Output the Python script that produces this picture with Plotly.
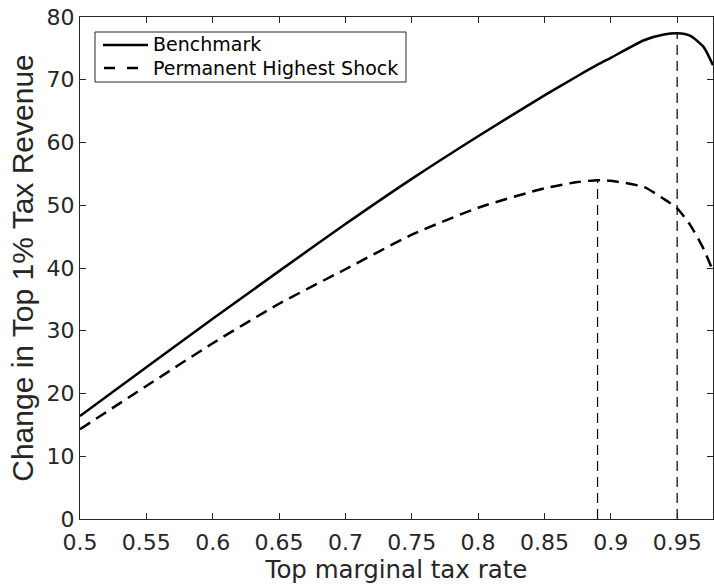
import plotly.graph_objects as go
import numpy as np

tax_rate = [0.50, 0.55, 0.60, 0.65, 0.70, 0.75, 0.80, 0.85, 0.875, 0.89, 0.90, 0.925, 0.94, 0.95, 0.96, 0.97, 0.977]
benchmark = [16.4, 24.2, 31.9, 39.5, 47.0, 54.2, 61.0, 67.5, 70.6, 72.4, 73.5, 76.3, 77.2, 77.4, 77.0, 75.2, 72.3]
shock = [14.3, 21.2, 28.0, 34.3, 39.8, 45.3, 49.6, 52.7, 53.7, 54.0, 53.9, 52.9, 51.0, 49.5, 46.8, 43.0, 39.5]
series_names = ["Benchmark", "Permanent Highest Shock"]

x_ticks = [0.5, 0.55, 0.6, 0.65, 0.7, 0.75, 0.8, 0.85, 0.9, 0.95]
x_tick_text = ["0.5", "0.55", "0.6", "0.65", "0.7", "0.75", "0.8", "0.85", "0.9", "0.95"]
y_ticks = [0, 10, 20, 30, 40, 50, 60, 70, 80]

FONT = "DejaVu Sans, Liberation Sans, Arial, sans-serif"
FONT_Y = "Liberation Sans, Arial, sans-serif"
TXT = "#262626"

W, H = 714, 585
ML, MR, MT, MB = 80, 1, 17, 66
PW, PH = W - ML - MR, H - MT - MB


def px(xp):  # pixel -> paper x (legend decoration only)
    return (xp - ML) / PW


def py(yp):  # pixel -> paper y (legend decoration only)
    return (H - MB - yp) / PH


fig = go.Figure()
fig.add_trace(go.Scatter(x=tax_rate, y=benchmark, mode="lines", name=series_names[0], showlegend=False,
                         line=dict(color="black", width=2.5, shape="spline", smoothing=0.6)))
fig.add_trace(go.Scatter(x=tax_rate, y=shock, mode="lines", name=series_names[1], showlegend=False,
                         line=dict(color="black", width=2.5, dash="12px,7px", shape="spline", smoothing=0.6)))

# vertical markers at each series' maximum
for series in (benchmark, shock):
    i = int(np.argmax(series))
    fig.add_trace(go.Scatter(x=[tax_rate[i], tax_rate[i]], y=[0, series[i]], mode="lines",
                             showlegend=False, hoverinfo="skip",
                             line=dict(color="black", width=1.2, dash="10px,6px")))

axis_common = dict(showline=True, linecolor=TXT, linewidth=1, mirror="ticks",
                   ticks="inside", ticklen=6, tickcolor=TXT, showgrid=False, zeroline=False,
                   tickfont=dict(family=FONT, size=22, color=TXT))

fig.update_xaxes(range=[0.5, 0.977], tickvals=x_ticks, ticktext=x_tick_text, ticklabelstandoff=4,
                 title=dict(text="Top marginal tax rate", font=dict(family=FONT, size=24.5, color=TXT), standoff=1),
                 **axis_common)
fig.update_yaxes(range=[0, 80], tickvals=y_ticks,
                 title=dict(text="Change in Top 1% Tax Revenue", font=dict(family=FONT_Y, size=30, color=TXT), standoff=4),
                 **axis_common)

# legend box (drawn manually to match the compact original legend)
fig.add_shape(type="rect", xref="paper", yref="paper", x0=px(95), x1=px(406), y0=py(82), y1=py(32),
              line=dict(color=TXT, width=1), fillcolor="white", layer="above")
fig.add_shape(type="line", xref="paper", yref="paper", x0=px(103), x1=px(148), y0=py(45), y1=py(45),
              line=dict(color="black", width=2.5), layer="above")
fig.add_shape(type="line", xref="paper", yref="paper", x0=px(104), x1=px(149), y0=py(68), y1=py(68),
              line=dict(color="black", width=2.5, dash="11px,12px"), layer="above")
for name, yy in zip(series_names, (44.5, 67.5)):
    fig.add_annotation(x=px(151), y=py(yy), xref="paper", yref="paper", text=name, showarrow=False,
                       xanchor="left", yanchor="middle", font=dict(family=FONT, size=19, color="black"))

fig.update_layout(
    width=W, height=H,
    margin=dict(l=ML, r=MR, t=MT, b=MB),
    plot_bgcolor="white", paper_bgcolor="white",
    font=dict(family=FONT, color=TXT),
    showlegend=False,
)

fig.write_html("out.html")
